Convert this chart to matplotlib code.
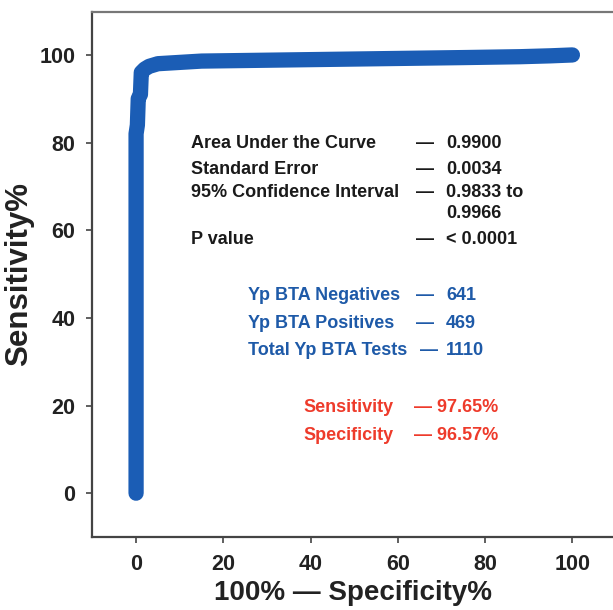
import matplotlib
matplotlib.use('Agg')
import matplotlib.pyplot as plt

plt.rcParams['font.family'] = ['Liberation Sans', 'DejaVu Sans']

# ROC curve points (100% - specificity, sensitivity)
fpr = [0, 0, 0, 0.3, 0.5, 1.0, 1.2, 2, 3, 5, 10, 15, 30, 45, 60, 75, 88, 95, 100]
tpr = [0, 60, 82, 84, 90, 91, 96, 96.8, 97.4, 98.0, 98.3, 98.6, 98.8, 99.0, 99.2, 99.4, 99.6, 99.8, 100]

xticks = [0, 20, 40, 60, 80, 100]
yticks = [0, 20, 40, 60, 80, 100]

stats_labels = ['Area Under the Curve', 'Standard Error', '95% Confidence Interval', 'P value']
stats_values = ['0.9900', '0.0034', '0.9833 to', '< 0.0001']
counts_labels = ['Yp BTA Negatives', 'Yp BTA Positives', 'Total Yp BTA Tests']
counts_values = ['641', '469', '1110']
perf_labels = ['Sensitivity', 'Specificity']
perf_values = ['97.65%', '96.57%']

W, H = 613, 610
fig = plt.figure(figsize=(W / 100, H / 100), dpi=100)
ax = fig.add_axes([92 / W, 1 - 537 / H, 1 - 92 / W, (537 - 12) / H])

blue = '#1b5db5'
ax.plot(fpr, tpr, color=blue, lw=11, solid_capstyle='round', solid_joinstyle='round', zorder=3)

ax.set_xlim(-10.1, 109.3)
ax.set_ylim(-10.0, 109.8)
ax.set_xticks(xticks)
ax.set_yticks(yticks)
ax.tick_params(direction='out', length=4, width=1.2, color='#444444', pad=8,
               labelsize=15.5, labelcolor='#222222')
for lab in ax.get_xticklabels() + ax.get_yticklabels():
    lab.set_fontweight('bold')

ax.spines['right'].set_visible(False)
for s in ['left', 'bottom']:
    ax.spines[s].set_color('#444444')
    ax.spines[s].set_linewidth(1.6)
ax.spines['top'].set_color('#777777')
ax.spines['top'].set_linewidth(1.6)

ax.set_xlabel('100% \u2014 Specificity%', fontsize=20, fontweight='bold', color='#222222', labelpad=4)
ax.set_ylabel('Sensitivity%', fontsize=22.5, fontweight='bold', color='#222222', labelpad=4)

def px(x, y):
    return x / W, 1 - y / H

fs = 13
# statistics block
for lab, val, y in zip(stats_labels, stats_values, [143, 170, 192, 239]):
    fig.text(*px(191, y), lab, fontsize=fs, fontweight='bold', color='#1a1a1a', va='center')
    fig.text(*px(416, y), '\u2014', fontsize=fs, fontweight='bold', color='#1a1a1a', va='center')
    fig.text(*px(446, y), val, fontsize=fs, fontweight='bold', color='#1a1a1a', va='center')
fig.text(*px(446, 213), '0.9966', fontsize=fs, fontweight='bold', color='#1a1a1a', va='center')

# counts block
tblue = '#1e5aa8'
for lab, val, y, dx in zip(counts_labels, counts_values, [295, 323, 351], [416, 416, 420]):
    fig.text(*px(248, y), lab, fontsize=fs, fontweight='bold', color=tblue, va='center')
    fig.text(*px(dx, y), '\u2014', fontsize=fs, fontweight='bold', color=tblue, va='center')
    fig.text(*px(446, y), val, fontsize=fs, fontweight='bold', color=tblue, va='center')

# sensitivity / specificity
red = '#ee3b2b'
for lab, val, y in zip(perf_labels, perf_values, [407, 435]):
    fig.text(*px(303, y), lab, fontsize=fs, fontweight='bold', color=red, va='center')
    fig.text(*px(414, y), '\u2014 ' + val, fontsize=fs, fontweight='bold', color=red, va='center')

fig.savefig('out.png', dpi=100, facecolor='white')
